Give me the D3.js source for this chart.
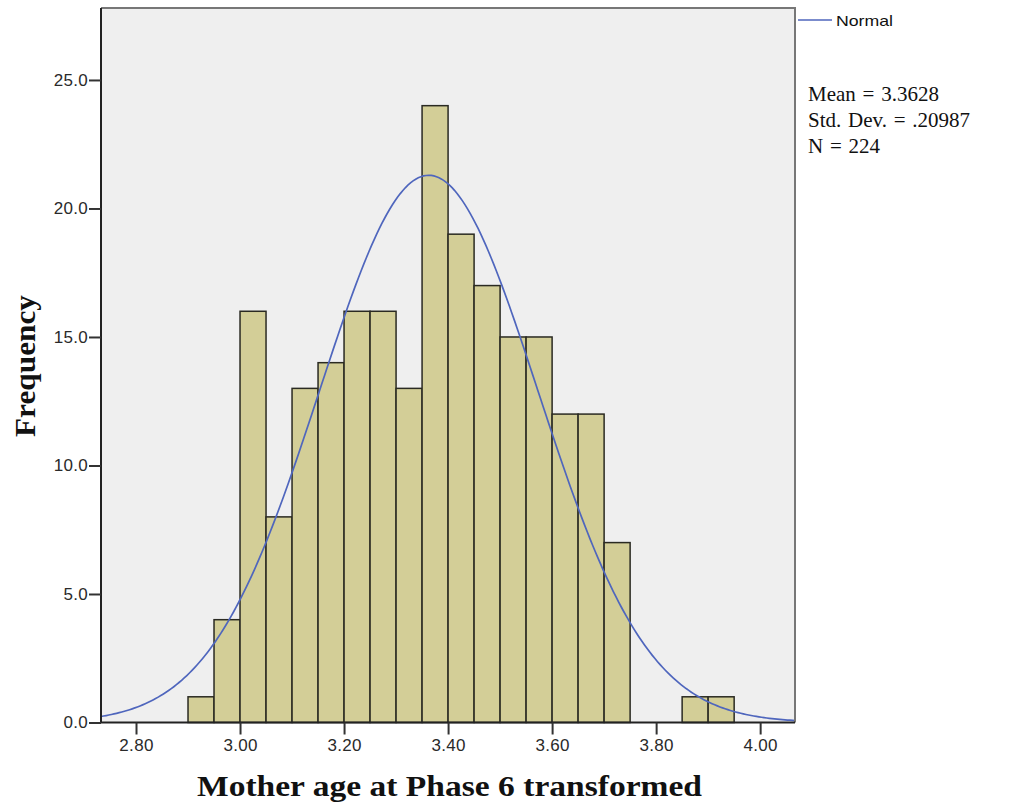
<!DOCTYPE html>
<html><head><meta charset="utf-8">
<script src="https://cdn.jsdelivr.net/npm/d3@7"></script>
<style>body{margin:0;background:#fff}</style>
</head><body>
<svg id="c" width="1024" height="805"></svg>
<script>
const binStarts = [2.90,2.95,3.00,3.05,3.10,3.15,3.20,3.25,3.30,3.35,3.40,3.45,3.50,3.55,3.60,3.65,3.70,3.85,3.90];
const counts    = [1,4,16,8,13,14,16,16,13,24,19,17,15,15,12,12,7,1,1];
const binWidth = 0.05;
const xTicks = [2.80,3.00,3.20,3.40,3.60,3.80,4.00];
const yTicks = [0,5,10,15,20,25];
const mean = 3.3628, sd = 0.20987, N = 224;
const statLines = ["Mean = 3.3628","Std. Dev. = .20987","N = 224"];

const L=101, R=795, T=8, B=722.5;
const svg = d3.select("#c");
const x = d3.scaleLinear().domain([2.7327,4.067]).range([L,R]);
const y = d3.scaleLinear().domain([0,27.8]).range([B,T]);

svg.append("rect").attr("x",L).attr("y",T).attr("width",R-L).attr("height",B-T).attr("fill","#efefef");

svg.append("g").selectAll("rect").data(binStarts).join("rect")
  .attr("x",(d)=>x(d)).attr("width",(d)=>x(d+binWidth)-x(d))
  .attr("y",(d,i)=>y(counts[i])).attr("height",(d,i)=>B-y(counts[i]))
  .attr("fill","#d3ce97").attr("stroke","#2a2a22").attr("stroke-width",1.5);

// normal curve from the displayed mean, sd and N
const pts = d3.range(x.domain()[0], x.domain()[1]+0.001, 0.005);
const pdf = v => N*binWidth/(sd*Math.sqrt(2*Math.PI))*Math.exp(-0.5*((v-mean)/sd)**2);
svg.append("path").datum(pts)
  .attr("d", d3.line().x(d=>x(d)).y(d=>y(pdf(d))))
  .attr("fill","none").attr("stroke","#4f66bd").attr("stroke-width",1.7);

// frame top/right
svg.append("path").attr("d",`M${L},${T}H${R}V${B}`).attr("fill","none").attr("stroke","#777").attr("stroke-width",2);

const xa = svg.append("g").attr("transform",`translate(0,${B})`)
  .call(d3.axisBottom(x).tickValues(xTicks).tickFormat(d3.format(".2f")).tickSize(12).tickPadding(4).tickSizeOuter(0));
const ya = svg.append("g").attr("transform",`translate(${L},0)`)
  .call(d3.axisLeft(y).tickValues(yTicks).tickFormat(d3.format(".1f")).tickSize(12).tickPadding(1).tickSizeOuter(0));
[xa,ya].forEach(a=>{
  a.select(".domain").attr("stroke","#222").attr("stroke-width",2);
  a.selectAll(".tick line").attr("stroke","#333").attr("stroke-width",2);
  a.selectAll("text").attr("font-family","Arial, 'Liberation Sans', sans-serif").attr("font-size",17).attr("letter-spacing",0.3).attr("fill","#2a2a2a");
});
xa.select(".domain").attr("d",`M${L},0H${R}`);
ya.select(".domain").attr("d",`M0,${T}V${B}`);

svg.append("text").attr("x",197).attr("y",796)
  .attr("font-family","'Liberation Serif','Times New Roman',serif").attr("font-weight","bold").attr("font-size",30)
  .attr("textLength",505).attr("lengthAdjust","spacingAndGlyphs")
  .attr("fill","#111").text("Mother age at Phase 6 transformed");
svg.append("text").attr("transform","translate(35,437) rotate(-90)")
  .attr("font-family","'Liberation Serif','Times New Roman',serif").attr("font-weight","bold").attr("font-size",30)
  .attr("textLength",142).attr("lengthAdjust","spacingAndGlyphs")
  .attr("fill","#111").text("Frequency");

// legend
svg.append("line").attr("x1",798).attr("x2",832).attr("y1",20).attr("y2",20).attr("stroke","#4f66bd").attr("stroke-width",1.7);
svg.append("text").attr("x",836).attr("y",26).attr("font-family","Arial,'Liberation Sans',sans-serif").attr("font-size",15)
  .attr("textLength",57).attr("lengthAdjust","spacingAndGlyphs").attr("fill","#111").text("Normal");
svg.append("g").selectAll("text").data(statLines).join("text")
  .attr("x",808).attr("y",(d,i)=>101+i*26)
  .attr("font-family","'Liberation Serif','Times New Roman',serif").attr("font-size",21).attr("word-spacing",1.5)
  .attr("fill","#111").text(d=>d);
</script>
</body></html>
